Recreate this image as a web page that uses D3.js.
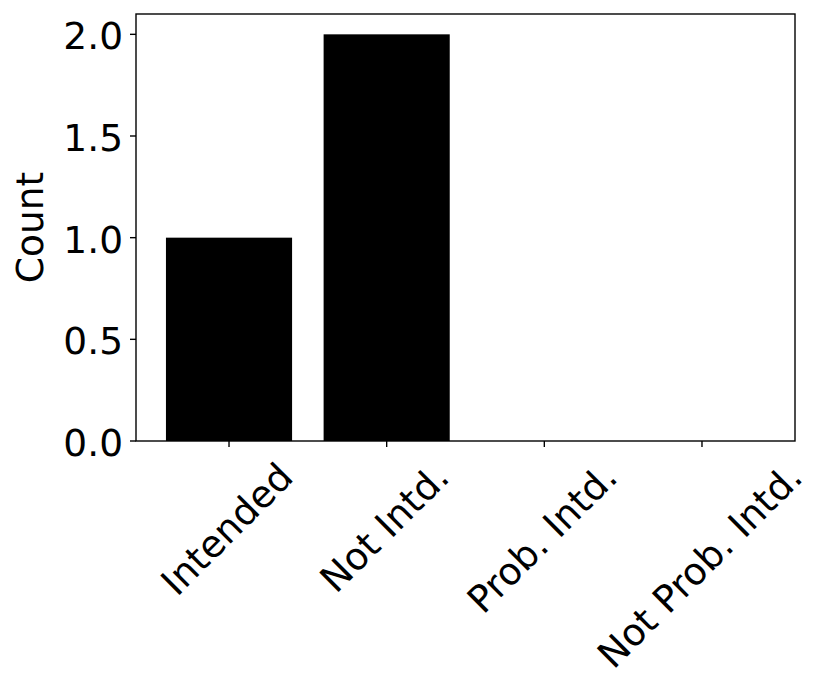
<!DOCTYPE html>
<meta charset="utf-8">
<style>
body { margin: 0; background: #fff; }
text { font-family: "DejaVu Sans", sans-serif; font-size: 37.5px; fill: #000; }
</style>
<svg width="830" height="697"></svg>
<script src="https://d3js.org/d3.v7.min.js"></script>
<script>
// chart data
var categories = ["Intended", "Not Intd.", "Prob. Intd.", "Not Prob. Intd."];
var counts = [1, 2, 0, 0];
var yTicks = [0, 0.5, 1.0, 1.5, 2.0];

var svg = d3.select("svg"),
    plotLeft = 136, plotRight = 795, plotTop = 14, plotBottom = 441,
    fs = 37.5;

// matplotlib-like limits: bars of width 0.8 plus 5% margins
var x = d3.scaleLinear().domain([-0.59, categories.length - 1 + 0.59]).range([plotLeft, plotRight]);
var y = d3.scaleLinear().domain([0, 2.1]).range([plotBottom, plotTop]);

// bars
svg.selectAll("rect.bar")
  .data(counts)
  .enter().append("rect")
    .attr("class", "bar")
    .attr("x", function(d, i) { return x(i - 0.4); })
    .attr("width", function(d, i) { return x(i + 0.4) - x(i - 0.4); })
    .attr("y", function(d) { return y(d); })
    .attr("height", function(d) { return y(0) - y(d); })
    .attr("fill", "#000");

// frame
svg.append("rect")
    .attr("x", plotLeft).attr("y", plotTop)
    .attr("width", plotRight - plotLeft).attr("height", plotBottom - plotTop)
    .attr("fill", "none").attr("stroke", "#000").attr("stroke-width", 1.4);

// y axis ticks + labels
var yAxis = svg.append("g");
yAxis.selectAll("line")
  .data(yTicks)
  .enter().append("line")
    .attr("x1", plotLeft - 6).attr("x2", plotLeft)
    .attr("y1", function(d) { return y(d); }).attr("y2", function(d) { return y(d); })
    .attr("stroke", "#000").attr("stroke-width", 1.4);
yAxis.selectAll("text")
  .data(yTicks)
  .enter().append("text")
    .attr("x", plotLeft - 13)
    .attr("y", function(d) { return y(d) + 15; })
    .attr("text-anchor", "end")
    .text(function(d) { return d.toFixed(1); });

// x axis ticks
var xAxis = svg.append("g");
xAxis.selectAll("line")
  .data(categories)
  .enter().append("line")
    .attr("x1", function(d, i) { return x(i); }).attr("x2", function(d, i) { return x(i); })
    .attr("y1", plotBottom).attr("y2", plotBottom + 6)
    .attr("stroke", "#000").attr("stroke-width", 1.4);

// rotated labels, bbox centred under the tick (matplotlib ha='center', rotation=45)
var h = 1.0 * fs, desc = 0.236 * fs, yTop = 459, c = Math.SQRT1_2;
xAxis.selectAll("text")
  .data(categories)
  .enter().append("text")
    .text(function(d) { return d; })
    .each(function(d, i) {
      var w = this.getComputedTextLength();
      var sx = x(i) - c * (w - h) / 2 - c * desc,
          sy = yTop + c * (w + h) - c * desc;
      d3.select(this)
        .attr("x", sx).attr("y", sy)
        .attr("transform", "rotate(-45," + sx + "," + sy + ")");
    });

// y label
svg.append("text")
    .attr("transform", "translate(43," + (plotTop + plotBottom) / 2 + ") rotate(-90)")
    .attr("text-anchor", "middle")
    .text("Count");
</script>
